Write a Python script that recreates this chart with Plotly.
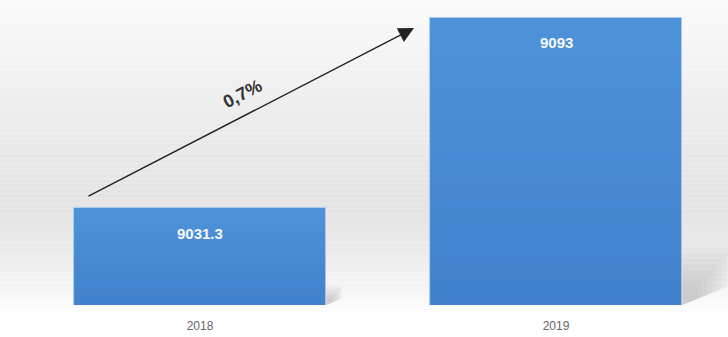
import plotly.graph_objects as go
import numpy as np

years = ["2018", "2019"]
values = [9031.3, 9093]
value_labels = ["9031.3", "9093"]
growth_label = "0,7%"

W, H = 728, 337
MB = 32
PH = H - MB
y0, y1 = 9000, 9098.8
px_per_x = 356
xr = [-200 / px_per_x, -200 / px_per_x + W / px_per_x]
bar_w = 0.71
px_per_y = PH / (y1 - y0)

fig = go.Figure()
fig.add_trace(go.Bar(
    x=[0, 1], y=values, width=bar_w,
    marker=dict(color="#4f93d9", line=dict(color="#a9cdf0", width=1)),
    hoverinfo="skip", showlegend=False,
))

shapes = []
# background vertical gradient (paper coords)
stops_px = [0, 40, 120, 200, 250, 290, 310, 337]
stops_c = [250, 246, 236, 228, 234, 246, 253, 255]
n = 68
edges = np.linspace(0, H, n + 1)
for i in range(n):
    mid = (edges[i] + edges[i + 1]) / 2
    c = int(round(np.interp(mid, stops_px, stops_c)))
    shapes.append(dict(type="rect", xref="paper", yref="paper", layer="below",
                       x0=-0.01, x1=1.01,
                       y0=(PH - edges[i + 1]) / PH, y1=(PH - edges[i]) / PH,
                       fillcolor=f"rgb({c},{c},{c})", line=dict(width=0)))

# soft shadows and bar gradient overlays, computed from data
for i, v in enumerate(values):
    right = i + bar_w / 2
    h = v - y0
    sh_px = 0.2 * h * px_per_y          # shadow height in px
    for k in range(8):
        f = 1 - k / 10
        top = y0 + (sh_px * f) / px_per_y
        wid = (sh_px * 0.85 * f) / px_per_x
        shapes.append(dict(type="path", xref="x", yref="y", layer="below",
                           path=(f"M {right},{top} L {right + wid},{top} "
                                 f"L {right + wid},{y0 + (sh_px*0.35*f)/px_per_y} L {right},{y0} Z"),
                           fillcolor="rgba(150,150,150,0.07)", line=dict(width=0)))
    nb = 24
    for k in range(nb):
        a = 0.22 * (k + 0.5) / nb
        shapes.append(dict(type="rect", xref="x", yref="y", layer="above",
                           x0=i - bar_w / 2 + 0.003, x1=i + bar_w / 2 - 0.003,
                           y0=v - h * (k + 1) / nb, y1=v - h * k / nb,
                           fillcolor=f"rgba(20,70,160,{a:.3f})", line=dict(width=0)))

annotations = []
for i, (v, t) in enumerate(zip(values, value_labels)):
    annotations.append(dict(x=i, y=v, xref="x", yref="y", text=f"<b>{t}</b>",
                            showarrow=False, yshift=-25,
                            font=dict(family="Liberation Sans", size=15, color="#f4f8fc")))

# growth arrow
annotations.append(dict(x=414 / W, y=(PH - 28) / PH, xref="paper", yref="paper",
                        ax=-327, ay=169, axref="pixel", ayref="pixel",
                        text="", showarrow=True, arrowhead=2, arrowsize=2.2,
                        arrowwidth=1.4, arrowcolor="#222222"))
annotations.append(dict(x=242 / W, y=(PH - 94) / PH, xref="paper", yref="paper",
                        xanchor="center", yanchor="middle",
                        text=f"<b>{growth_label}</b>", showarrow=False, textangle=-27,
                        font=dict(family="Liberation Sans", size=18, color="#333333")))

fig.update_layout(
    width=W, height=H,
    margin=dict(l=0, r=0, t=0, b=MB),
    paper_bgcolor="white", plot_bgcolor="rgba(0,0,0,0)",
    shapes=shapes, annotations=annotations, bargap=0,
    xaxis=dict(range=xr, tickvals=[0, 1], ticktext=years, showgrid=False,
               zeroline=False, showline=False, ticks="",
               tickfont=dict(family="Liberation Sans", size=12, color="#666666"),
               ticklabelstandoff=12),
    yaxis=dict(range=[y0, y1], visible=False, showgrid=False, zeroline=False),
)

fig.write_html("out.html")
